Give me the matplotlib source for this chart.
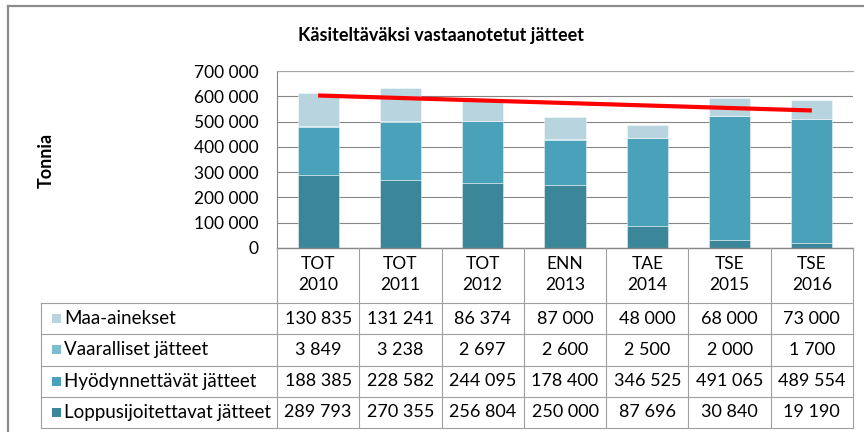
import numpy as np
import matplotlib.pyplot as plt
from matplotlib.ticker import FuncFormatter
from matplotlib.patches import Rectangle

plt.rcParams['font.family'] = ['Lato', 'DejaVu Sans']

# data
categories = ["TOT\n2010", "TOT\n2011", "TOT\n2012", "ENN\n2013", "TAE\n2014", "TSE\n2015", "TSE\n2016"]
series_names = ["Loppusijoitettavat jätteet", "Hyödynnettävät jätteet",
                "Vaaralliset jätteet", "Maa-ainekset"]
loppusijoitettavat = [289793, 270355, 256804, 250000, 87696, 30840, 19190]
hyodynnettavat = [188385, 228582, 244095, 178400, 346525, 491065, 489554]
vaaralliset = [3849, 3238, 2697, 2600, 2500, 2000, 1700]
maa_ainekset = [130835, 131241, 86374, 87000, 48000, 68000, 73000]
colors = ["#3b8699", "#4aa2ba", "#7dbdd0", "#b7d4df"]


def fmt(v):
    return f"{int(v):,}".replace(",", " ")


W, H = 864, 432
fig = plt.figure(figsize=(W / 100, H / 100), dpi=100)

# chart frame (gray border top and left)
fig.add_artist(plt.Line2D([8 / W, 1], [1 - 5.5 / H] * 2, color="#8c8c8c", lw=1.6))
fig.add_artist(plt.Line2D([8 / W] * 2, [0, 1 - 5.5 / H], color="#8c8c8c", lw=1.6))

pl, pr, pt, pb = 277, 853, 71, 248
ax = fig.add_axes([pl / W, 1 - pb / H, (pr - pl) / W, (pb - pt) / H])

x = np.arange(len(categories))
series = [loppusijoitettavat, hyodynnettavat, vaaralliset, maa_ainekset]
bottom = np.zeros(len(categories))
for vals, c in zip(series, colors):
    ax.bar(x, vals, 0.5, bottom=bottom, color=c, edgecolor=(1, 1, 1, 0.5), linewidth=0.6, zorder=3)
    bottom += np.array(vals)

# linear trendline of totals
coef = np.polyfit(x, bottom, 1)
ax.plot(x, np.polyval(coef, x), color="#ff0000", lw=3, zorder=4, solid_capstyle="butt")

ax.set_xlim(-0.5, len(categories) - 0.5)
ax.set_ylim(0, 700000)
ax.set_yticks(np.arange(0, 700001, 100000))
ax.yaxis.set_major_formatter(FuncFormatter(lambda v, p: fmt(v)))
ax.set_xticks([])
ax.tick_params(axis="y", length=0, pad=13, labelsize=12.5)
ax.grid(axis="y", color="#868686", lw=0.8, zorder=0)
for s in ["right", "bottom"]:
    ax.spines[s].set_visible(False)
ax.spines["top"].set_color("#a6a6a6")
ax.spines["top"].set_linewidth(0.8)
ax.spines["left"].set_color("#868686")
ax.spines["left"].set_linewidth(0.8)

fig.text(441 / W, 1 - 35 / H, "Käsiteltäväksi vastaanotetut jätteet", ha="center", va="center",
         fontsize=13, fontweight="bold")
fig.text(46 / W, 1 - 160 / H, "Tonnia", rotation=90, ha="center", va="center",
         fontsize=13, fontweight="bold")

# data table
tl, tb = 41, 428
colw = (pr - pl) / len(categories)
tax = fig.add_axes([tl / W, 1 - tb / H, (pr - tl) / W, (tb - pb) / H])
x0 = -0.5 - (pl - tl) / colw
tax.set_xlim(x0, len(categories) - 0.5)
tax.set_ylim(0, tb - pb)
tax.axis("off")
lc = "#a0a0a0"
head_bot = tb - 303
row_h = head_bot / 4
# axis line on top of header
tax.plot([-0.5, len(categories) - 0.5], [tb - pb] * 2, color="#868686", lw=1, clip_on=False)
for k in range(len(categories) + 1):
    tax.plot([-0.5 + k] * 2, [0, tb - pb], color=lc, lw=0.8, clip_on=False)
tax.plot([x0] * 2, [0, head_bot], color=lc, lw=0.8, clip_on=False)
for r in range(5):
    tax.plot([x0, len(categories) - 0.5], [r * row_h] * 2, color=lc, lw=0.8, clip_on=False)

for i, cat in enumerate(categories):
    tax.text(i, (head_bot + tb - pb) / 2 + 1, cat, ha="center", va="center", fontsize=12.5,
             linespacing=1.45)

rows = list(zip(series_names, series, colors))[::-1]
for r, (name, vals, c) in enumerate(rows):
    yc = head_bot - (r + 0.5) * row_h
    tax.add_patch(Rectangle((x0 + 11 / colw, yc - 4.5), 9 / colw, 9, color=c, lw=0))
    tax.text(x0 + 23 / colw, yc, name, ha="left", va="center", fontsize=13.5)
    for i, v in enumerate(vals):
        tax.text(i, yc, fmt(v), ha="center", va="center", fontsize=13)

fig.savefig("out.png", dpi=100)
